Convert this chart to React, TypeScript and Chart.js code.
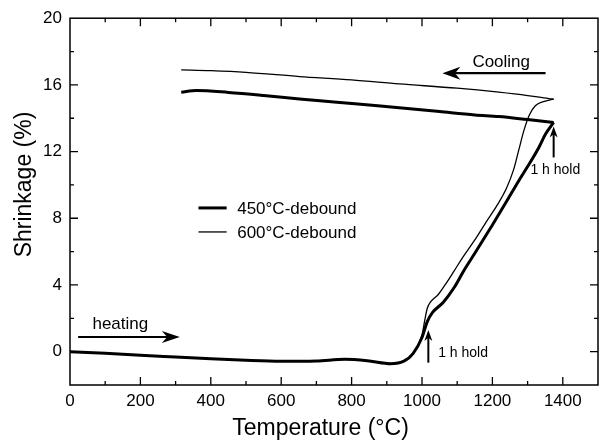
import React, { useEffect, useRef } from "react";
import { Chart, registerables } from "chart.js";

Chart.register(...registerables);

// ---- data (Temperature °C, Shrinkage %) ----
const heat450T = [0, 100, 200, 300, 400, 500, 600, 700, 780, 850, 910, 950, 975, 1000, 1015, 1030, 1060, 1090, 1120, 1150, 1200, 1240, 1275, 1300, 1332, 1351, 1374];
const heat450S = [0, -0.1, -0.22, -0.32, -0.42, -0.52, -0.58, -0.56, -0.46, -0.56, -0.72, -0.55, -0.1, 0.85, 1.8, 2.35, 2.95, 3.8, 4.9, 5.9, 7.6, 9.0, 10.25, 11.1, 12.25, 13.05, 13.75];
const cool450T = [316, 359, 450, 550, 652, 750, 850, 935, 1050, 1150, 1218, 1300, 1374];
const cool450S = [15.56, 15.66, 15.55, 15.37, 15.16, 14.98, 14.79, 14.63, 14.4, 14.2, 14.1, 13.92, 13.75];

const heat600T = [0, 100, 200, 300, 400, 500, 600, 700, 780, 850, 910, 950, 975, 1000, 1008, 1015, 1025, 1045, 1067, 1090, 1114, 1150, 1180, 1214, 1240, 1260, 1275, 1290, 1305, 1322, 1345, 1374];
const heat600S = [0, -0.1, -0.22, -0.32, -0.42, -0.52, -0.58, -0.56, -0.46, -0.56, -0.72, -0.55, -0.1, 1.0, 1.9, 2.6, 3.0, 3.4, 4.05, 4.8, 5.6, 6.7, 7.7, 8.8, 9.8, 10.9, 12.1, 13.3, 14.2, 14.75, 15.0, 15.15];
const cool600T = [316, 400, 500, 652, 800, 935, 1100, 1218, 1300, 1360, 1374];
const cool600S = [16.9, 16.85, 16.75, 16.5, 16.3, 16.06, 15.8, 15.56, 15.36, 15.18, 15.15];

const seriesLabels = ["450°C-debound", "600°C-debound"];
const xTickValues = [0, 200, 400, 600, 800, 1000, 1200, 1400];
const yTickValues = [0, 4, 8, 12, 16, 20];
const xTitle = "Temperature (°C)";
const yTitle = "Shrinkage (%)";

const FONT = '"Liberation Sans", Arial, Helvetica, sans-serif';

const toPts = (t: number[], s: number[]) => t.map((x, i) => ({ x, y: s[i] }));

function drawArrow(ctx: CanvasRenderingContext2D, x1: number, y1: number, x2: number, y2: number, headLen: number, headW: number, lw: number) {
  const ang = Math.atan2(y2 - y1, x2 - x1);
  ctx.save();
  ctx.strokeStyle = "#000";
  ctx.fillStyle = "#000";
  ctx.lineWidth = lw;
  ctx.beginPath();
  ctx.moveTo(x1, y1);
  ctx.lineTo(x2 - Math.cos(ang) * headLen * 0.6, y2 - Math.sin(ang) * headLen * 0.6);
  ctx.stroke();
  ctx.translate(x2, y2);
  ctx.rotate(ang);
  ctx.beginPath();
  ctx.moveTo(0, 0);
  ctx.lineTo(-headLen, -headW / 2);
  ctx.lineTo(-headLen * 0.7, 0);
  ctx.lineTo(-headLen, headW / 2);
  ctx.closePath();
  ctx.fill();
  ctx.restore();
}

const framePlugin = {
  id: "frame",
  afterDatasetsDraw(chart: any) {
    const { ctx, chartArea: a, scales } = chart;
    const xs = scales.x;
    const ys = scales.y;
    const X = (v: number) => xs.getPixelForValue(v);
    const Y = (v: number) => ys.getPixelForValue(v);
    ctx.save();
    // box
    ctx.strokeStyle = "#000";
    ctx.lineWidth = 1.5;
    ctx.strokeRect(a.left, a.top, a.right - a.left, a.bottom - a.top);
    // ticks inward
    ctx.lineWidth = 1.3;
    ctx.beginPath();
    for (let v = 100; v < 1500; v += 100) {
      const px = X(v);
      const len = v % 200 === 0 ? 8 : 4;
      ctx.moveTo(px, a.bottom);
      ctx.lineTo(px, a.bottom - len);
      ctx.moveTo(px, a.top);
      ctx.lineTo(px, a.top + len);
    }
    for (let v = 0; v < 20; v += 2) {
      const py = Y(v);
      const len = v % 4 === 0 ? 8 : 4;
      ctx.moveTo(a.left, py);
      ctx.lineTo(a.left + len, py);
      ctx.moveTo(a.right, py);
      ctx.lineTo(a.right - len, py);
    }
    ctx.stroke();

    // annotations
    ctx.fillStyle = "#000";
    ctx.font = `17px ${FONT}`;
    ctx.textBaseline = "alphabetic";
    ctx.textAlign = "center";
    ctx.fillText("Cooling", X(1225), Y(17.1));
    drawArrow(ctx, X(1351), Y(16.7), X(1058), Y(16.7), 18, 13, 2.2);
    ctx.fillText("heating", X(143), Y(1.36));
    drawArrow(ctx, X(23), Y(0.88), X(312), Y(0.88), 18, 12, 2.2);

    ctx.font = `14px ${FONT}`;
    ctx.textAlign = "left";
    drawArrow(ctx, X(1018), Y(-0.66), X(1018), Y(1.3), 11, 8, 2);
    ctx.fillText("1 h hold", X(1046), Y(-0.32));
    drawArrow(ctx, X(1374), Y(11.65), X(1374), Y(13.5), 11, 8, 2);
    ctx.fillText("1 h hold", X(1308), Y(10.65));

    // legend
    const ds = chart.data.datasets;
    const widths = [ds[0].borderWidth, ds[2].borderWidth];
    ctx.font = `17px ${FONT}`;
    ctx.textBaseline = "middle";
    [8.62, 7.18].forEach((sv, i) => {
      const py = Y(sv);
      ctx.lineWidth = widths[i];
      ctx.beginPath();
      ctx.moveTo(X(365), py);
      ctx.lineTo(X(445), py);
      ctx.stroke();
      ctx.fillText(seriesLabels[i], X(475), py + 1);
    });

    // axis titles
    ctx.font = `23px ${FONT}`;
    ctx.textAlign = "center";
    ctx.textBaseline = "middle";
    ctx.fillText(xTitle, 320.5, 429);
    ctx.translate(25, 184.5);
    ctx.rotate(-Math.PI / 2);
    ctx.fillText(yTitle, 0, 0);
    ctx.restore();
  },
};

export default function App() {
  const ref = useRef<HTMLCanvasElement>(null);
  useEffect(() => {
    if (!ref.current) return;
    const line = (label: string, t: number[], s: number[], w: number) => ({
      label,
      data: toPts(t, s),
      borderColor: "#000",
      backgroundColor: "#000",
      borderWidth: w,
      pointRadius: 0,
      cubicInterpolationMode: "monotone" as const,
      fill: false,
    });
    const chart = new Chart(ref.current, {
      type: "line",
      data: {
        datasets: [
          line(seriesLabels[0], heat450T, heat450S, 3),
          line(seriesLabels[0], cool450T, cool450S, 3),
          line(seriesLabels[1], heat600T, heat600S, 1.3),
          line(seriesLabels[1], cool600T, cool600S, 1.3),
        ],
      },
      options: {
        animation: false,
        responsive: false,
        layout: { padding: { top: 18, right: 1, left: 0, bottom: 0 } },
        plugins: { legend: { display: false }, tooltip: { enabled: false } },
        scales: {
          x: {
            type: "linear",
            min: 0,
            max: 1500,
            grid: { display: false, drawTicks: false },
            border: { display: false },
            afterBuildTicks: (s: any) => {
              s.ticks = xTickValues.map((v) => ({ value: v }));
            },
            afterFit: (s: any) => {
              s.height = 59;
            },
            ticks: {
              color: "#000",
              font: { family: FONT, size: 17 },
              padding: 6,
              maxRotation: 0,
              callback: (v: any) => String(v),
            },
          },
          y: {
            type: "linear",
            min: -2,
            max: 20,
            grid: { display: false, drawTicks: false },
            border: { display: false },
            afterBuildTicks: (s: any) => {
              s.ticks = yTickValues.map((v) => ({ value: v }));
            },
            afterFit: (s: any) => {
              s.width = 70;
            },
            ticks: {
              color: "#000",
              font: { family: FONT, size: 17 },
              padding: 8,
              callback: (v: any) => String(v),
            },
          },
        },
      },
      plugins: [framePlugin],
    });
    return () => chart.destroy();
  }, []);
  return (
    <div style={{ position: "absolute", left: 0, top: 0, width: 599, height: 444, background: "#fff" }}>
      <canvas ref={ref} width={599} height={444} />
    </div>
  );
}
